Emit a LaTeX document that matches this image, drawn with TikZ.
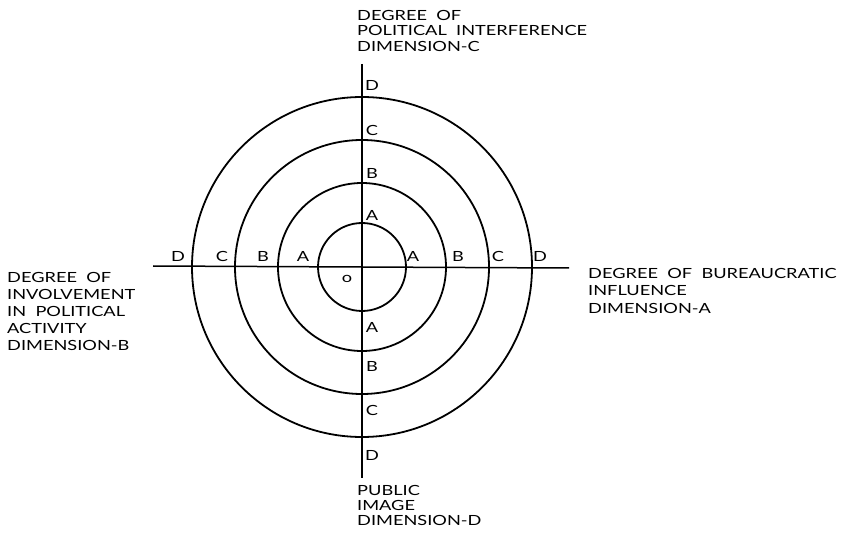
\documentclass[tikz,border=0pt]{standalone}
\usepackage{fontspec}
\setmainfont{Lato}[FakeStretch=1.3]
\begin{document}
\begin{tikzpicture}[x=1pt,y=-1pt,
  ring/.style={line width=1.8pt},
  axis/.style={line width=1.5pt},
  lab/.style={font=\fontsize{14}{16.5}\selectfont, align=left, inner sep=0pt, anchor=north west},
  letr/.style={font=\fontsize{14}{14}\selectfont, inner sep=0pt},
]
\useasboundingbox (0,0) rectangle (853,534);
\coordinate (c) at (362,267);
\coordinate (top) at (362,64);
\coordinate (bot) at (362,478);
\coordinate (lft) at (153,266);
\coordinate (rgt) at (569,268);
\draw[axis] (top) -- (bot);
\draw[axis] (lft) -- (rgt);
\foreach \r in {44,84,127,170} \draw[ring] (c) circle (\r);
% horizontal letters
\node[letr] (hD1) at (178,256) {D};
\node[letr] (hC1) at (222,256) {C};
\node[letr] (hB1) at (263,256) {B};
\node[letr] (hA1) at (303,256) {A};
\node[letr] (hA2) at (413,256) {A};
\node[letr] (hB2) at (458,256) {B};
\node[letr] (hC2) at (498,256) {C};
\node[letr] (hD2) at (540,256) {D};
% vertical letters
\node[letr] (vD1) at (372,85) {D};
\node[letr] (vC1) at (372,130) {C};
\node[letr] (vB1) at (372,173) {B};
\node[letr] (vA1) at (372,215) {A};
\node[letr] (vA2) at (372,327) {A};
\node[letr] (vB2) at (372,366) {B};
\node[letr] (vC2) at (372,410) {C};
\node[letr] (vD2) at (372,455) {D};
\node[letr] (o) at (347,279) {o};
% labels
\node[lab, font=\fontsize{14}{15.5}\selectfont] (ltop) at (357,10) {DEGREE\ \ OF\\POLITICAL\ \ INTERFERENCE\\DIMENSION-C};
\node[lab, font=\fontsize{14}{15.2}\selectfont] (lbot) at (357,485) {PUBLIC\\IMAGE\\DIMENSION-D};
\node[lab, font=\fontsize{14}{17}\selectfont] (lleft) at (7,272) {DEGREE\ \ OF\\INVOLVEMENT\\IN\ \ POLITICAL\\ACTIVITY\\DIMENSION-B};
\node[lab, font=\fontsize{14}{17.5}\selectfont] (lright) at (588,268) {DEGREE\ \ OF\ \ BUREAUCRATIC\\INFLUENCE\\DIMENSION-A};
\end{tikzpicture}
\end{document}
